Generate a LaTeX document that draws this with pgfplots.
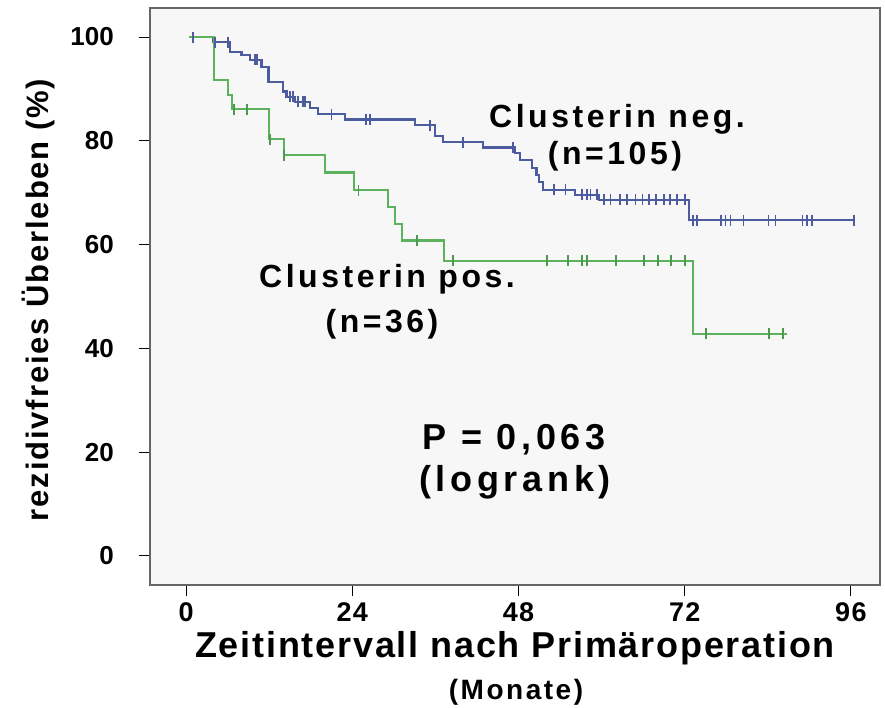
\documentclass[border=0pt]{standalone}
\usepackage{pgfplots}
\pgfplotsset{compat=1.18}
\usepackage{fontspec}
\newfontfamily\sps{Liberation Sans}[BoldFont={Liberation Sans Bold}]
\newcommand\T[3]{{\fontsize{#1}{#1}\selectfont\sps\bfseries\addfontfeatures{LetterSpace=#2}#3}}
\definecolor{bgc}{HTML}{F7F7F7}
\definecolor{negc}{HTML}{4C5C9F}
\definecolor{posc}{HTML}{5DB35D}

\begin{document}
\begin{tikzpicture}
\begin{axis}[
    at={(0,0)}, anchor=south west,
    scale only axis,
    width=730pt, height=577pt,
    xmin=-5.2, xmax=100.2,
    ymin=-5.6, ymax=105.6,
    axis background/.style={fill=bgc},
    axis line style={draw=black!60, line width=1.2pt},
    tick pos=left,
    tick align=outside,
    tick style={black, line width=1pt},
    major tick length=11pt,
    xtick={0,24,48,72,96},
    xticklabels={0,24,48,72,96},
    ytick={0,20,40,60,80,100},
    yticklabels={0,20,40,60,80,100},
    xticklabel style={anchor=north, inner sep=0pt, yshift=-6pt,
        font={\fontsize{27}{27}\selectfont\sps\bfseries\addfontfeatures{LetterSpace=5}}},
    yticklabel style={anchor=east, inner sep=0pt, xshift=-25pt,
        font={\fontsize{26}{26}\selectfont\sps\bfseries}},
]
% Clusterin neg. (n=105)
\addplot[const plot, negc, line width=2.2pt] coordinates {
    (0.5,100) (3.9,99.0) (6.4,97.1) (8.0,96.5) (9.2,95.6) (10.9,94.3)
    (11.9,91.4) (14.0,89.5) (14.5,88.5) (15.7,87.5) (17.9,86.4) (19.1,85.1)
    (23.0,84.1) (33.1,83.0) (35.9,80.9) (37.1,79.7) (42.9,78.7) (47.5,77.6)
    (48.2,76.3) (49.9,74.7) (50.6,73.4) (51.0,72.1) (51.5,70.6) (56.2,69.6)
    (59.6,68.6) (72.6,64.7) (96.4,64.7)
};
\addplot[only marks, mark=|, mark size=5.5pt, negc, line width=1.8pt] coordinates {
    (1.0,100) (4.2,99.0) (6.1,99.0) (10.0,95.6) (10.3,95.6)
    (15.0,88.5) (15.5,88.5) (16.2,87.5) (16.9,87.5) (17.2,87.5)
    (21.0,85.1) (26.0,84.1) (26.6,84.1) (35.2,83.0) (40.0,79.7) (47.2,78.7)
    (53.1,70.6) (54.8,70.6)
    (57.2,69.6) (57.9,69.6) (58.4,69.6) (59.3,69.6)
    (60.3,68.6) (61.3,68.6) (62.7,68.6) (63.7,68.6) (64.9,68.6) (65.9,68.6)
    (66.8,68.6) (67.8,68.6) (69.0,68.6) (69.9,68.6) (70.9,68.6) (72.1,68.6)
    (73.2,64.7) (73.8,64.7) (77.2,64.7) (77.9,64.7) (78.6,64.7) (80.5,64.7)
    (84.1,64.7) (85.1,64.7) (89.0,64.7) (89.7,64.7) (90.4,64.7) (96.4,64.7)
};
% Clusterin pos. (n=36)
\addplot[const plot, posc, line width=2.2pt] coordinates {
    (0.5,100) (4.0,91.7) (6.1,88.9) (6.6,86.1) (12.0,80.3) (14.1,77.2)
    (20.1,73.9) (24.2,70.5) (29.2,67.2) (30.2,64.0) (31.2,60.8) (37.2,56.9)
    (73.2,42.8) (86.8,42.8)
};
\addplot[only marks, mark=|, mark size=5.5pt, posc!85!black, line width=1.8pt] coordinates {
    (6.9,86.1) (8.8,86.1) (12.1,80.3) (14.2,77.2) (24.9,70.5) (33.3,60.8)
    (38.6,56.9) (52.1,56.9) (55.1,56.9) (57.2,56.9) (57.9,56.9) (62.1,56.9)
    (66.1,56.9) (68.1,56.9) (70.0,56.9) (72.1,56.9)
    (75.1,42.8) (84.2,42.8) (86.2,42.8)
};
\end{axis}
% text, in pt from the lower left corner of the plot frame
\node[anchor=base, inner sep=0pt] at (467pt,457pt) {\T{32}{11}{Clusterin neg.}};
\node[anchor=base, inner sep=0pt] at (465pt,420pt) {\T{32}{11}{(n=105)}};
\node[anchor=base, inner sep=0pt] at (237pt,297pt) {\T{32}{11}{Clusterin pos.}};
\node[anchor=base, inner sep=0pt] at (232pt,252pt) {\T{32}{11}{(n=36)}};
\node[anchor=base, inner sep=0pt] at (364pt,135pt) {\T{36}{13}{P = 0,063}};
\node[anchor=base, inner sep=0pt] at (365pt,93pt) {\T{36}{13}{(logrank)}};
\node[anchor=base, inner sep=0pt] at (365pt,-73pt) {\T{36}{5}{Zeitintervall nach Primäroperation}};
\node[anchor=base, inner sep=0pt] at (366pt,-115pt) {\T{28}{9}{(Monate)}};
\node[anchor=base, inner sep=0pt, rotate=90] at (-101pt,285pt) {\T{31}{6}{rezidivfreies Überleben (\%)}};
\pgfresetboundingbox
\useasboundingbox (-150pt,-123pt) rectangle (735pt,585pt);
\end{tikzpicture}
\end{document}
